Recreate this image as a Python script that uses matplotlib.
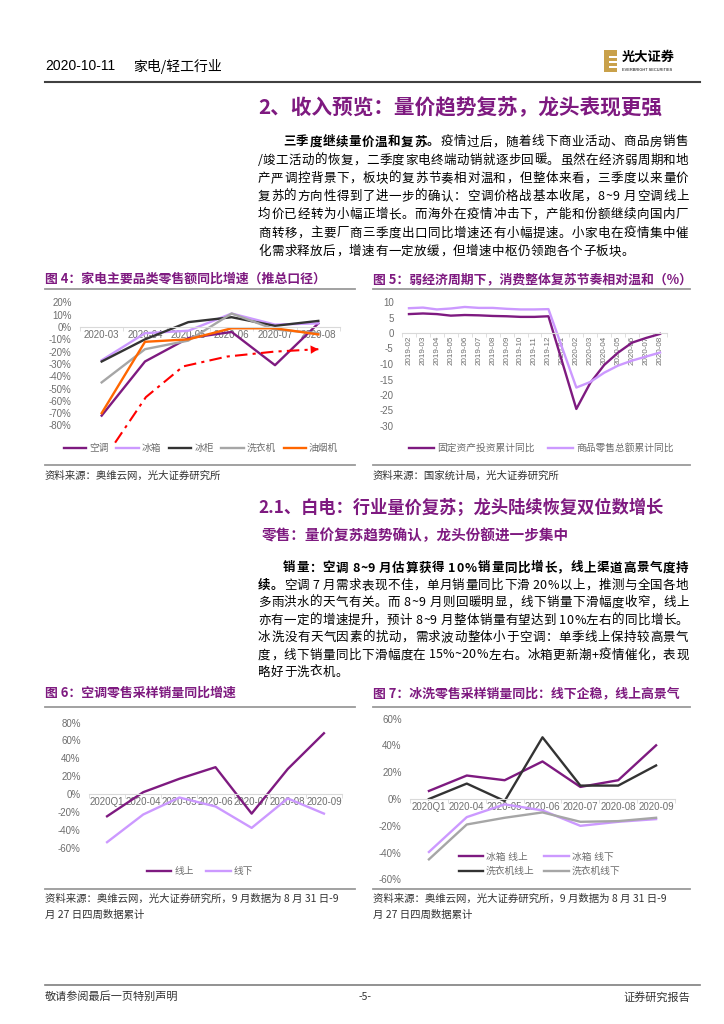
import numpy as np
import matplotlib
matplotlib.use('Agg')
import matplotlib.pyplot as plt
from matplotlib.lines import Line2D
from matplotlib.patches import Rectangle
from matplotlib.font_manager import FontProperties, findfont
from matplotlib.ft2font import FT2Font

# ---------------- data read from the page ----------------
# 图4 家电主要品类零售额同比增速（%）
months4 = ['2020-03', '2020-04', '2020-05', '2020-06', '2020-07', '2020-08']
ac4 = [-72, -28, -9, -4, -31, 3]
fridge4 = [-27, -5, -3, 11, 2, 3]
freezer4 = [-28, -10, 4, 8, 1, 5]
washer4 = [-45, -18, -11, 11, -2, -5]
hood4 = [-70, -12, -10, -1, -1, -6]
# red trend arrow drawn by hand on the chart
trend_x = [0.31, 1.02, 1.88, 2.89, 3.98, 5.0]
trend_y = [-94, -57, -32, -24, -20, -18]

# 图5 固定资产投资 / 商品零售总额 累计同比（%）
months5 = ['2019-02', '2019-03', '2019-04', '2019-05', '2019-06', '2019-07', '2019-08',
           '2019-09', '2019-10', '2019-11', '2019-12', '2020-01', '2020-02', '2020-03',
           '2020-04', '2020-05', '2020-06', '2020-07', '2020-08']
fai5 = [6.1, 6.3, 6.1, 5.6, 5.8, 5.7, 5.5, 5.4, 5.2, 5.2, 5.4, None,
        -24.5, -16.1, -10.3, -6.3, -3.1, -1.6, -0.3]
retail5 = [8.0, 8.2, 7.6, 7.9, 8.4, 8.1, 8.1, 7.8, 7.6, 7.6, 7.7, None,
           -17.6, -15.8, -12.8, -10.5, -8.9, -7.6, -6.3]

# 图6 空调零售采样销量同比（%）
months6 = ['2020Q1', '2020-04', '2020-05', '2020-06', '2020-07', '2020-08', '2020-09']
ac_on = [-25, 2, 17, 30, -22, 28, 68]
ac_off = [-54, -23, -4, -14, -38, -5, -22]

# 图7 冰洗零售采样销量同比（%）
fr_on = [6, 17.5, 14, 28, 9, 14, 40]
fr_off = [-39.5, -13.5, -4, -8.5, -20, -17, -15]
wa_on = [0, 11.5, -1.5, 46, 10, 10, 25]
wa_off = [-45, -19, -14, -10, -17, -16.5, -14]

# ---------------- page setup ----------------
plt.rcParams['font.family'] = ['Liberation Sans', 'Noto Sans CJK SC']
CJK = ['Noto Sans CJK SC', 'DejaVu Sans']
W, H = 724, 1024
PURPLE = '#7E1A80'
LPURPLE = '#CC99FF'
DARK = '#333333'
GRAY = '#A6A6A6'
ORANGE = '#FF6600'
TICK = '#6E6E6E'

fig = plt.figure(figsize=(W / 100, H / 100), dpi=100)


def fx(x):
    return x / W


def fy(y):
    return 1 - y / H


def put(x, y, s, size=9, color='black', weight='normal', ha='left', va='center', family=None):
    return fig.text(fx(x), fy(y), s, fontsize=size, color=color, weight=weight,
                    ha=ha, va=va, family=family or CJK)


def rule(x0, x1, y, color='#9A9A9A', lw=1.3):
    fig.add_artist(Line2D([fx(x0), fx(x1)], [fy(y), fy(y)], transform=fig.transFigure,
                          color=color, lw=lw))


def box(x0, y0, x1, y1):
    return fig.add_axes([fx(x0), fy(y1), (x1 - x0) / W, (y1 - y0) / H])


_fonts = {}


def adv(c, size, weight):
    # advance width of one glyph in pixels
    if weight not in _fonts:
        path = findfont(FontProperties(family='Noto Sans CJK SC', weight=weight))
        _fonts[weight] = FT2Font(path, hinting_factor=1)
    f = _fonts[weight]
    f.set_size(size, 100)
    g = f.load_char(ord(c))
    return g.horiAdvance / 64


def para_line(x0, x1, y, parts, justify=True, size=9, color='black'):
    chars = [(c, w) for s, w in parts for c in s]
    widths = [adv(c, size, w) for c, w in chars]
    gap = (x1 - x0 - sum(widths)) / (len(chars) - 1) if justify else 0
    x = x0
    base = y + 0.36 * size * 100 / 72
    for (c, w), cw in zip(chars, widths):
        if c != ' ':
            put(x, base, c, size=size, weight=w, va='baseline', color=color)
        x += cw + gap


def style_axes(ax, cats, ylim, yticks, fmt, labelsize=7, rot=0):
    ax.patch.set_alpha(0)
    ax.set_xlim(-0.5, len(cats) - 0.5)
    ax.set_ylim(*ylim)
    for s in ['top', 'right', 'left']:
        ax.spines[s].set_visible(False)
    ax.spines['bottom'].set_position(('data', 0))
    ax.spines['bottom'].set_color('#D9D9D9')
    ax.set_xticks(range(len(cats)))
    ax.set_xticklabels(cats, rotation=rot)
    ax.set_xticks(np.arange(-0.5, len(cats)), minor=True)
    ax.tick_params(axis='x', which='major', length=0, labelsize=labelsize, labelcolor=TICK, pad=2)
    ax.tick_params(axis='x', which='minor', length=3, color='#D9D9D9')
    ax.set_yticks(yticks)
    ax.set_yticklabels([fmt(v) for v in yticks])
    ax.tick_params(axis='y', length=0, labelsize=7, labelcolor=TICK, pad=6)


def source(x, y, s):
    put(x, y, s, size=7.5, color='#333333')


# ---------------- header ----------------
put(45, 66, '2020-10-11', size=10, family=['Liberation Sans'])
put(133, 66, '家电/轻工行业', size=10)
rule(45, 700, 82, color='#404040', lw=1.5)
fig.add_artist(Rectangle((fx(604), fy(72)), 13 / W, 22 / H, transform=fig.transFigure,
                         color='#C9A14A', lw=0))
for yy in [56, 61, 66]:
    fig.add_artist(Rectangle((fx(609), fy(yy + 1.5)), 8 / W, 1.5 / H, transform=fig.transFigure,
                             color='white', lw=0))
put(622, 57, '光大证券', size=9.5, weight='bold')
put(622, 70, 'EVERBRIGHT SECURITIES', size=2.8, family=['Liberation Sans'])

# ---------------- section 2 ----------------
put(258, 108, '2、收入预览：量价趋势复苏，龙头表现更强', size=14.9, color=PURPLE, weight='bold')

p1 = [
    [('三季度继续量价温和复苏。', 'bold'), ('疫情过后，随着线下商业活动、商品房销售', 'normal')],
    [('/竣工活动的恢复，二季度家电终端动销就逐步回暖。虽然在经济弱周期和地', 'normal')],
    [('产严调控背景下，板块的复苏节奏相对温和，但整体来看，三季度以来量价', 'normal')],
    [('复苏的方向性得到了进一步的确认：空调价格战基本收尾，8~9 月空调线上', 'normal')],
    [('均价已经转为小幅正增长。而海外在疫情冲击下，产能和份额继续向国内厂', 'normal')],
    [('商转移，主要厂商三季度出口同比增速还有小幅提速。小家电在疫情集中催', 'normal')],
    [('化需求释放后，增速有一定放缓，但增速中枢仍领跑各个子板块。', 'normal')],
]
for i, parts in enumerate(p1):
    para_line(283 if i == 0 else 258, 689, 141 + i * 18.2, parts, justify=i < len(p1) - 1)

# ---------------- figure 4 ----------------
put(45, 279, '图 4：家电主要品类零售额同比增速（推总口径）', size=9.3, color=PURPLE, weight='bold')
put(373, 279, '图 5：弱经济周期下，消费整体复苏节奏相对温和（%）', size=9.3, color=PURPLE, weight='bold')
rule(45, 355, 289)
rule(373, 690, 289)

ax4 = box(80, 296.3, 340, 443.9)
x4 = np.arange(len(months4))
ax4.plot(x4, ac4, color=PURPLE, lw=1.7, label='空调')
ax4.plot(x4, fridge4, color=LPURPLE, lw=1.7, label='冰箱')
ax4.plot(x4, freezer4, color=DARK, lw=1.7, label='冰柜')
ax4.plot(x4, washer4, color=GRAY, lw=1.7, label='洗衣机')
ax4.plot(x4, hood4, color=ORANGE, lw=1.7, label='油烟机')
ax4.plot(trend_x, trend_y, color='red', lw=1.5, ls=(0, (6, 2.5, 1.5, 2.5)))
ax4.annotate('', xy=(trend_x[-1], trend_y[-1]), xytext=(trend_x[-2], trend_y[-2]),
             arrowprops=dict(arrowstyle='-|>,head_length=0.55,head_width=0.3',
                             fc='red', ec='red', lw=0.01, shrinkA=0, shrinkB=0))
style_axes(ax4, months4, (-95, 25), list(range(20, -81, -10)), lambda v: f'{v}%')
ax4.legend(loc='center', bbox_to_anchor=(fx(201), fy(448)), bbox_transform=fig.transFigure,
           ncol=5, frameon=False, fontsize=7, handlelength=2.3, columnspacing=0.8,
           handletextpad=0.3, labelcolor=TICK)

# ---------------- figure 5 ----------------
ax5 = box(402, 295.8, 667, 432.2)
x5 = np.array([i for i, v in enumerate(fai5) if v is not None])
ax5.plot(x5, [fai5[i] for i in x5], color=PURPLE, lw=1.7, label='固定资产投资累计同比')
ax5.plot(x5, [retail5[i] for i in x5], color=LPURPLE, lw=1.7, label='商品零售总额累计同比')
style_axes(ax5, months5, (-32, 12), list(range(10, -31, -5)), lambda v: f'{v}',
           labelsize=5.8, rot=90)
ax5.legend(loc='center left', bbox_to_anchor=(fx(400), fy(448)), bbox_transform=fig.transFigure,
           ncol=2, frameon=False, fontsize=7, handlelength=2.6, columnspacing=1.4,
           handletextpad=0.3, labelcolor=TICK)

rule(45, 355, 465)
rule(373, 690, 465)
source(45, 476, '资料来源：奥维云网，光大证券研究所')
source(373, 476, '资料来源：国家统计局，光大证券研究所')

# ---------------- section 2.1 ----------------
put(258, 508, '2.1、白电：行业量价复苏；龙头陆续恢复双位数增长', size=12.4, color=PURPLE, weight='bold')
put(262, 535, '零售：量价复苏趋势确认，龙头份额进一步集中', size=10.5, color=PURPLE, weight='bold')

p2 = [
    [('销量：空调 8~9 月估算获得 10%销量同比增长，线上渠道高景气度持', 'bold')],
    [('续。', 'bold'), ('空调 7 月需求表现不佳，单月销量同比下滑 20%以上，推测与全国各地', 'normal')],
    [('多雨洪水的天气有关。而 8~9 月则回暖明显，线下销量下滑幅度收窄，线上', 'normal')],
    [('亦有一定的增速提升，预计 8~9 月整体销量有望达到 10%左右的同比增长。', 'normal')],
    [('冰洗没有天气因素的扰动，需求波动整体小于空调：单季线上保持较高景气', 'normal')],
    [('度，线下销量同比下滑幅度在 15%~20%左右。冰箱更新潮+疫情催化，表现', 'normal')],
    [('略好于洗衣机。', 'normal')],
]
for i, parts in enumerate(p2):
    para_line(283 if i == 0 else 258, 689, 567 + i * 17.4, parts, justify=i < len(p2) - 1)

# ---------------- figure 6 / 7 ----------------
put(45, 693, '图 6：空调零售采样销量同比增速', size=9.3, color=PURPLE, weight='bold')
put(373, 693, '图 7：冰洗零售采样销量同比：线下企稳，线上高景气', size=9.3, color=PURPLE, weight='bold')
rule(45, 355, 707)
rule(373, 690, 707)

ax6 = box(89, 715.4, 342, 852)
x6 = np.arange(len(months6))
ax6.plot(x6, ac_on, color=PURPLE, lw=1.7, label='线上')
ax6.plot(x6, ac_off, color=LPURPLE, lw=1.7, label='线下')
style_axes(ax6, months6, (-65, 88), list(range(80, -61, -20)), lambda v: f'{v}%')
ax6.legend(loc='center', bbox_to_anchor=(fx(200), fy(871)), bbox_transform=fig.transFigure,
           ncol=2, frameon=False, fontsize=7, handlelength=2.5, columnspacing=1.3,
           handletextpad=0.3, labelcolor=TICK)

ax7 = box(410, 714.5, 675, 883.5)
h1, = ax7.plot(x6, fr_on, color=PURPLE, lw=1.7, label='冰箱 线上')
h2, = ax7.plot(x6, fr_off, color=LPURPLE, lw=1.7, label='冰箱 线下')
h3, = ax7.plot(x6, wa_on, color=DARK, lw=1.7, label='洗衣机线上')
h4, = ax7.plot(x6, wa_off, color=GRAY, lw=1.7, label='洗衣机线下')
style_axes(ax7, months6, (-63, 63), list(range(60, -61, -20)), lambda v: f'{v}%')
ax7.legend(handles=[h1, h3, h2, h4], loc='center left', bbox_to_anchor=(fx(450), fy(864)),
           bbox_transform=fig.transFigure, ncol=2, frameon=False, fontsize=7,
           handlelength=2.5, columnspacing=1.0, handletextpad=0.3, labelspacing=0.45,
           labelcolor=TICK)

rule(45, 355, 889)
rule(373, 690, 889)
for xx in [45, 373]:
    source(xx, 899, '资料来源：奥维云网，光大证券研究所，9 月数据为 8 月 31 日-9')
    source(xx, 915, '月 27 日四周数据累计')

# ---------------- footer ----------------
rule(45, 700, 985, color='#7F7F7F', lw=1.2)
put(45, 997, '敬请参阅最后一页特别声明', size=8, color='#333333')
put(365, 997, '-5-', size=7.5, color='#333333', ha='center')
put(690, 997, '证券研究报告', size=8, color='#333333', ha='right')

fig.savefig('out.png', dpi=100)
